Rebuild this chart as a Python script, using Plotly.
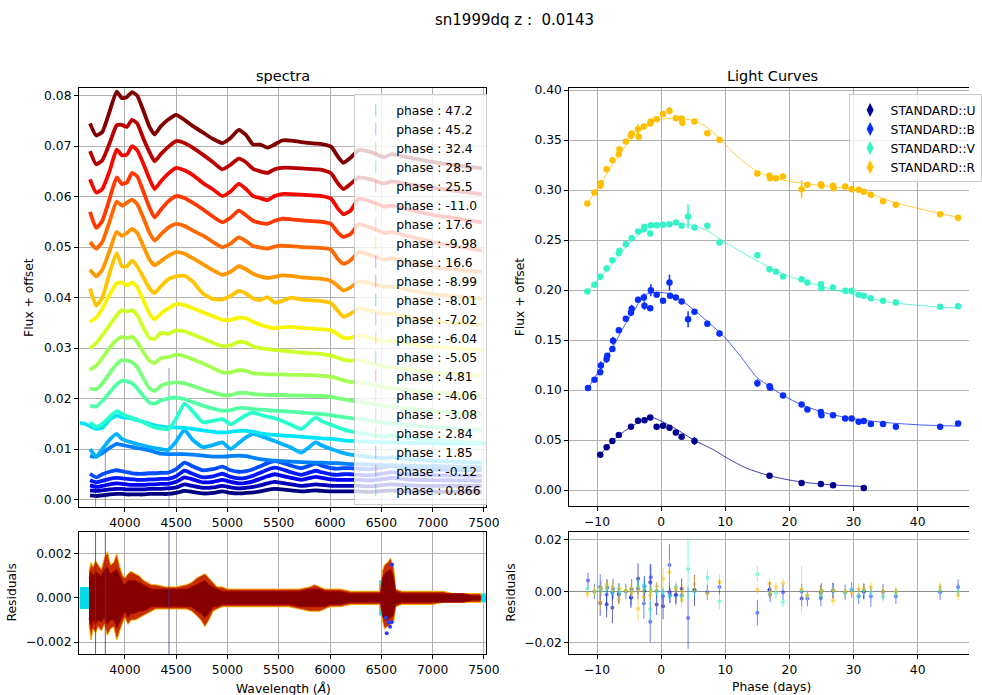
import numpy as np
import plotly.graph_objects as go

FONT = "DejaVu Sans"
GRID = "#b0b0b0"

# ---------------------------------------------------------------- spectra
# common wavelength grid (Angstrom)
wave = [3660, 3720, 3780, 3850, 3920, 3970, 4020, 4070, 4120, 4180,
        4240, 4290, 4350, 4420, 4500, 4580, 4660, 4760, 4860, 4950,
        5030, 5110, 5180, 5250, 5320, 5390, 5460, 5530, 5620, 5720,
        5860, 5920, 6010, 6070, 6130, 6200, 6280, 6400, 6530, 6600,
        6750, 6900, 7050, 7200, 7350, 7480]

phases = ["47.2", "45.2", "32.4", "28.5", "25.5", "-11.0", "17.6", "-9.98",
          "16.6", "-8.99", "-8.01", "-7.02", "-6.04", "-5.05", "4.81",
          "-4.06", "-3.08", "2.84", "1.85", "-0.12", "0.866"]

# flux + offset for each spectrum, same order as phases
flux_p47_2 = [0.0008, 0.0007, 0.0008, 0.0010, 0.0011, 0.0011, 0.0010, 0.0010, 0.0010, 0.0010,
              0.0011, 0.0011, 0.0011, 0.0011, 0.0013, 0.0017, 0.0015, 0.0012, 0.0013, 0.0016,
              0.0013, 0.0012, 0.0013, 0.0014, 0.0016, 0.0019, 0.0021, 0.0020, 0.0018, 0.0016,
              0.0018, 0.0017, 0.0016, 0.0016, 0.0016, 0.0016, 0.0016, 0.0015, 0.0017, 0.0018,
              0.0016, 0.0016, 0.0015, 0.0015, 0.0015, 0.0015]
flux_p45_2 = [0.0018, 0.0017, 0.0018, 0.0020, 0.0021, 0.0021, 0.0020, 0.0020, 0.0020, 0.0020,
              0.0021, 0.0021, 0.0021, 0.0022, 0.0024, 0.0030, 0.0027, 0.0023, 0.0024, 0.0027,
              0.0024, 0.0022, 0.0023, 0.0025, 0.0028, 0.0032, 0.0035, 0.0033, 0.0030, 0.0027,
              0.0030, 0.0029, 0.0027, 0.0027, 0.0027, 0.0027, 0.0027, 0.0026, 0.0029, 0.0030,
              0.0028, 0.0027, 0.0027, 0.0027, 0.0027, 0.0027]
flux_p32_4 = [0.0028, 0.0025, 0.0027, 0.0030, 0.0032, 0.0031, 0.0030, 0.0029, 0.0029, 0.0029,
              0.0030, 0.0030, 0.0031, 0.0031, 0.0035, 0.0044, 0.0040, 0.0034, 0.0035, 0.0039,
              0.0035, 0.0032, 0.0033, 0.0036, 0.0041, 0.0046, 0.0050, 0.0047, 0.0043, 0.0039,
              0.0045, 0.0043, 0.0040, 0.0039, 0.0039, 0.0039, 0.0039, 0.0038, 0.0041, 0.0043,
              0.0040, 0.0039, 0.0038, 0.0038, 0.0038, 0.0037]
flux_p28_5 = [0.0038, 0.0034, 0.0037, 0.0041, 0.0043, 0.0042, 0.0041, 0.0040, 0.0039, 0.0039,
              0.0040, 0.0040, 0.0041, 0.0041, 0.0046, 0.0057, 0.0051, 0.0044, 0.0046, 0.0051,
              0.0045, 0.0042, 0.0043, 0.0047, 0.0053, 0.0059, 0.0063, 0.0060, 0.0054, 0.0049,
              0.0057, 0.0054, 0.0050, 0.0049, 0.0050, 0.0050, 0.0049, 0.0048, 0.0052, 0.0054,
              0.0050, 0.0049, 0.0048, 0.0048, 0.0047, 0.0047]
flux_p25_5 = [0.0051, 0.0044, 0.0050, 0.0055, 0.0058, 0.0056, 0.0054, 0.0052, 0.0051, 0.0051,
              0.0052, 0.0052, 0.0053, 0.0053, 0.0060, 0.0073, 0.0066, 0.0058, 0.0060, 0.0065,
              0.0058, 0.0055, 0.0056, 0.0060, 0.0066, 0.0072, 0.0076, 0.0073, 0.0067, 0.0062,
              0.0071, 0.0067, 0.0062, 0.0061, 0.0062, 0.0062, 0.0061, 0.0060, 0.0064, 0.0066,
              0.0061, 0.0060, 0.0059, 0.0059, 0.0058, 0.0058]
flux_m11_0 = [0.0086, 0.0085, 0.0092, 0.0102, 0.0110, 0.0108, 0.0106, 0.0104, 0.0102, 0.0100,
              0.0097, 0.0094, 0.0091, 0.0090, 0.0090, 0.0090, 0.0089, 0.0087, 0.0085, 0.0085,
              0.0086, 0.0087, 0.0086, 0.0083, 0.0080, 0.0078, 0.0077, 0.0076, 0.0075, 0.0074,
              0.0073, 0.0073, 0.0072, 0.0072, 0.0071, 0.0070, 0.0070, 0.0069, 0.0068, 0.0068,
              0.0067, 0.0066, 0.0066, 0.0065, 0.0065, 0.0064]
flux_p17_6 = [0.0100, 0.0085, 0.0100, 0.0118, 0.0130, 0.0120, 0.0116, 0.0113, 0.0110, 0.0107,
              0.0104, 0.0102, 0.0100, 0.0098, 0.0115, 0.0138, 0.0118, 0.0104, 0.0108, 0.0113,
              0.0100, 0.0112, 0.0123, 0.0130, 0.0126, 0.0121, 0.0116, 0.0110, 0.0103, 0.0093,
              0.0113, 0.0107, 0.0100, 0.0096, 0.0092, 0.0089, 0.0087, 0.0084, 0.0082, 0.0084,
              0.0080, 0.0078, 0.0076, 0.0075, 0.0074, 0.0073]
flux_m9_98 = [0.0145, 0.0140, 0.0142, 0.0158, 0.0166, 0.0163, 0.0162, 0.0160, 0.0157, 0.0154,
              0.0150, 0.0147, 0.0145, 0.0143, 0.0143, 0.0142, 0.0140, 0.0137, 0.0134, 0.0133,
              0.0134, 0.0136, 0.0136, 0.0134, 0.0131, 0.0129, 0.0128, 0.0127, 0.0126, 0.0124,
              0.0122, 0.0121, 0.0120, 0.0119, 0.0117, 0.0116, 0.0115, 0.0114, 0.0113, 0.0113,
              0.0112, 0.0112, 0.0111, 0.0111, 0.0111, 0.0111]
flux_p16_6 = [0.0153, 0.0144, 0.0150, 0.0163, 0.0175, 0.0170, 0.0165, 0.0162, 0.0158, 0.0153,
              0.0147, 0.0143, 0.0141, 0.0139, 0.0160, 0.0190, 0.0175, 0.0153, 0.0156, 0.0159,
              0.0149, 0.0158, 0.0167, 0.0172, 0.0168, 0.0164, 0.0161, 0.0156, 0.0148, 0.0140,
              0.0162, 0.0155, 0.0148, 0.0143, 0.0139, 0.0135, 0.0132, 0.0128, 0.0125, 0.0127,
              0.0122, 0.0119, 0.0117, 0.0115, 0.0113, 0.0112]
flux_m8_99 = [0.0186, 0.0184, 0.0195, 0.0212, 0.0228, 0.0235, 0.0234, 0.0230, 0.0220, 0.0205,
              0.0192, 0.0190, 0.0196, 0.0200, 0.0202, 0.0199, 0.0193, 0.0186, 0.0180, 0.0176,
              0.0177, 0.0181, 0.0181, 0.0179, 0.0178, 0.0177, 0.0176, 0.0175, 0.0174, 0.0172,
              0.0170, 0.0169, 0.0167, 0.0165, 0.0163, 0.0161, 0.0159, 0.0156, 0.0152, 0.0151,
              0.0148, 0.0145, 0.0143, 0.0141, 0.0139, 0.0138]
flux_m8_01 = [0.0220, 0.0218, 0.0230, 0.0250, 0.0268, 0.0276, 0.0275, 0.0272, 0.0262, 0.0240,
              0.0220, 0.0215, 0.0225, 0.0230, 0.0232, 0.0230, 0.0225, 0.0218, 0.0212, 0.0207,
              0.0207, 0.0211, 0.0211, 0.0209, 0.0208, 0.0207, 0.0207, 0.0207, 0.0206, 0.0206,
              0.0205, 0.0205, 0.0203, 0.0201, 0.0199, 0.0196, 0.0194, 0.0190, 0.0185, 0.0184,
              0.0180, 0.0177, 0.0174, 0.0172, 0.0170, 0.0169]
flux_m7_02 = [0.0257, 0.0265, 0.0280, 0.0300, 0.0316, 0.0322, 0.0320, 0.0322, 0.0312, 0.0292,
              0.0275, 0.0270, 0.0280, 0.0282, 0.0287, 0.0284, 0.0278, 0.0270, 0.0260, 0.0252,
              0.0252, 0.0256, 0.0255, 0.0250, 0.0249, 0.0248, 0.0248, 0.0248, 0.0247, 0.0247,
              0.0246, 0.0245, 0.0243, 0.0240, 0.0236, 0.0233, 0.0232, 0.0228, 0.0222, 0.0221,
              0.0217, 0.0214, 0.0211, 0.0209, 0.0207, 0.0206]
flux_m6_04 = [0.0299, 0.0310, 0.0325, 0.0345, 0.0365, 0.0375, 0.0372, 0.0375, 0.0365, 0.0340,
              0.0320, 0.0318, 0.0330, 0.0328, 0.0335, 0.0333, 0.0327, 0.0319, 0.0310, 0.0304,
              0.0305, 0.0312, 0.0311, 0.0303, 0.0300, 0.0298, 0.0296, 0.0295, 0.0293, 0.0291,
              0.0289, 0.0288, 0.0285, 0.0281, 0.0277, 0.0275, 0.0276, 0.0270, 0.0263, 0.0262,
              0.0258, 0.0254, 0.0251, 0.0249, 0.0247, 0.0246]
flux_m5_05 = [0.0352, 0.0360, 0.0378, 0.0405, 0.0428, 0.0430, 0.0424, 0.0430, 0.0420, 0.0395,
              0.0368, 0.0357, 0.0368, 0.0378, 0.0387, 0.0385, 0.0379, 0.0371, 0.0363, 0.0356,
              0.0356, 0.0360, 0.0359, 0.0352, 0.0346, 0.0342, 0.0339, 0.0341, 0.0342, 0.0340,
              0.0338, 0.0337, 0.0335, 0.0328, 0.0320, 0.0320, 0.0325, 0.0320, 0.0313, 0.0314,
              0.0309, 0.0305, 0.0302, 0.0300, 0.0298, 0.0297]
flux_p4_81 = [0.0418, 0.0384, 0.0400, 0.0448, 0.0488, 0.0462, 0.0462, 0.0473, 0.0462, 0.0440,
              0.0418, 0.0409, 0.0422, 0.0436, 0.0442, 0.0443, 0.0432, 0.0408, 0.0397, 0.0396,
              0.0403, 0.0413, 0.0408, 0.0398, 0.0395, 0.0401, 0.0390, 0.0393, 0.0400, 0.0396,
              0.0394, 0.0393, 0.0389, 0.0375, 0.0362, 0.0368, 0.0378, 0.0374, 0.0367, 0.0368,
              0.0362, 0.0357, 0.0353, 0.0350, 0.0348, 0.0346]
flux_m4_06 = [0.0455, 0.0442, 0.0455, 0.0492, 0.0530, 0.0522, 0.0528, 0.0536, 0.0528, 0.0502,
              0.0475, 0.0464, 0.0472, 0.0482, 0.0490, 0.0487, 0.0478, 0.0466, 0.0454, 0.0445,
              0.0451, 0.0462, 0.0456, 0.0447, 0.0442, 0.0439, 0.0441, 0.0444, 0.0443, 0.0440,
              0.0438, 0.0437, 0.0433, 0.0424, 0.0414, 0.0420, 0.0432, 0.0428, 0.0421, 0.0422,
              0.0416, 0.0410, 0.0406, 0.0403, 0.0400, 0.0398]
flux_m3_08 = [0.0510, 0.0497, 0.0510, 0.0550, 0.0590, 0.0582, 0.0588, 0.0594, 0.0585, 0.0558,
              0.0528, 0.0513, 0.0525, 0.0538, 0.0546, 0.0542, 0.0533, 0.0523, 0.0510, 0.0500,
              0.0507, 0.0519, 0.0512, 0.0502, 0.0499, 0.0497, 0.0501, 0.0503, 0.0502, 0.0500,
              0.0499, 0.0498, 0.0495, 0.0478, 0.0467, 0.0474, 0.0490, 0.0484, 0.0475, 0.0478,
              0.0470, 0.0464, 0.0459, 0.0456, 0.0453, 0.0451]
flux_p2_84 = [0.0570, 0.0538, 0.0552, 0.0595, 0.0638, 0.0625, 0.0628, 0.0647, 0.0640, 0.0610,
              0.0578, 0.0559, 0.0574, 0.0590, 0.0601, 0.0597, 0.0588, 0.0575, 0.0560, 0.0549,
              0.0558, 0.0572, 0.0563, 0.0552, 0.0548, 0.0546, 0.0552, 0.0556, 0.0555, 0.0553,
              0.0551, 0.0550, 0.0546, 0.0530, 0.0520, 0.0526, 0.0545, 0.0538, 0.0528, 0.0530,
              0.0522, 0.0515, 0.0508, 0.0503, 0.0497, 0.0493]
flux_p1_85 = [0.0634, 0.0608, 0.0615, 0.0650, 0.0693, 0.0682, 0.0683, 0.0700, 0.0692, 0.0665,
              0.0635, 0.0615, 0.0630, 0.0645, 0.0657, 0.0652, 0.0643, 0.0627, 0.0614, 0.0601,
              0.0610, 0.0625, 0.0615, 0.0601, 0.0597, 0.0593, 0.0601, 0.0605, 0.0605, 0.0604,
              0.0602, 0.0601, 0.0596, 0.0578, 0.0565, 0.0572, 0.0596, 0.0590, 0.0580, 0.0582,
              0.0575, 0.0568, 0.0562, 0.0558, 0.0553, 0.0549]
flux_m0_12 = [0.0690, 0.0664, 0.0672, 0.0705, 0.0741, 0.0742, 0.0738, 0.0752, 0.0745, 0.0715,
              0.0688, 0.0670, 0.0684, 0.0698, 0.0710, 0.0706, 0.0697, 0.0683, 0.0668, 0.0654,
              0.0663, 0.0675, 0.0668, 0.0655, 0.0650, 0.0647, 0.0654, 0.0657, 0.0657, 0.0656,
              0.0654, 0.0653, 0.0646, 0.0628, 0.0615, 0.0625, 0.0638, 0.0634, 0.0626, 0.0630,
              0.0625, 0.0620, 0.0616, 0.0612, 0.0608, 0.0605]
flux_p0_866 = [0.0745, 0.0721, 0.0728, 0.0768, 0.0808, 0.0795, 0.0797, 0.0807, 0.0800, 0.0770,
               0.0738, 0.0723, 0.0739, 0.0752, 0.0762, 0.0752, 0.0740, 0.0727, 0.0714, 0.0706,
               0.0716, 0.0732, 0.0722, 0.0703, 0.0703, 0.0697, 0.0703, 0.0711, 0.0711, 0.0708,
               0.0705, 0.0704, 0.0699, 0.0681, 0.0667, 0.0677, 0.0692, 0.0688, 0.0678, 0.0684,
               0.0678, 0.0672, 0.0667, 0.0663, 0.0659, 0.0656]

# the -9.98 spectrum covers a wider wavelength range
ext_wave_lo = [3560, 3610]
ext_flux_lo_m9_98 = [0.0152, 0.0150]
ext_wave_hi = [7520]
ext_flux_hi_m9_98 = [0.0110]

# very large single-pixel uncertainties on the 47.2 spectrum
bad_pix_wave = [3714, 3809, 4430]
bad_pix_flux = [0.0008, 0.0009, 0.0011]
bad_pix_err = [0.003, 0.009, 0.025]

spectra_flux = [flux_p47_2, flux_p45_2, flux_p32_4, flux_p28_5, flux_p25_5,
                flux_m11_0, flux_p17_6, flux_m9_98, flux_p16_6, flux_m8_99,
                flux_m8_01, flux_m7_02, flux_m6_04, flux_m5_05, flux_p4_81,
                flux_m4_06, flux_m3_08, flux_p2_84, flux_p1_85, flux_m0_12,
                flux_p0_866]

# ------------------------------------------------------ spectra residuals
res_wave = [3650, 3670, 3690, 3714, 3740, 3770, 3800, 3830, 3860, 3890,
            3920, 3950, 3980, 4000, 4030, 4060, 4100, 4140, 4180, 4220,
            4260, 4300, 4400, 4500, 4600, 4650, 4700, 4740, 4780, 4820,
            4860, 4900, 4950, 5000, 5100, 5200, 5300, 5400, 5500, 5600,
            5700, 5800, 5850, 5900, 5950, 6000, 6100, 6200, 6300, 6400,
            6490, 6510, 6530, 6560, 6590, 6620, 6640, 6700, 6800, 6900,
            7000, 7100, 7200, 7300, 7400, 7470]
res_outer_hi = [0.0012, 0.0016, 0.0014, 0.0017, 0.0015, 0.0013, 0.0018, 0.0021, 0.0015, 0.0016,
                0.0020, 0.0014, 0.0010, 0.0009, 0.0011, 0.0012, 0.0011, 0.0010, 0.0008, 0.0007,
                0.0006, 0.0006, 0.0005, 0.0005, 0.0006, 0.0007, 0.0009, 0.0010, 0.0011, 0.0009,
                0.0007, 0.0005, 0.0005, 0.0004, 0.0004, 0.0004, 0.0004, 0.0004, 0.0004, 0.0004,
                0.0004, 0.0005, 0.0006, 0.0005, 0.0004, 0.0004, 0.0004, 0.0003, 0.0003, 0.0003,
                0.0003, 0.0012, 0.0015, 0.0016, 0.0018, 0.0014, 0.0004, 0.0003, 0.0003, 0.0003,
                0.0003, 0.0003, 0.0002, 0.0002, 0.0002, 0.0002]
res_outer_lo = [-0.0012, -0.0019, -0.0014, -0.0016, -0.0013, -0.0015, -0.0012, -0.0017, -0.0014, -0.0013,
                -0.0019, -0.0015, -0.0011, -0.0009, -0.0012, -0.0010, -0.0010, -0.0009, -0.0008, -0.0007,
                -0.0006, -0.0005, -0.0005, -0.0005, -0.0005, -0.0006, -0.0008, -0.0010, -0.0013, -0.0010,
                -0.0006, -0.0005, -0.0004, -0.0004, -0.0004, -0.0004, -0.0004, -0.0004, -0.0004, -0.0004,
                -0.0005, -0.0006, -0.0006, -0.0006, -0.0005, -0.0004, -0.0004, -0.0003, -0.0003, -0.0003,
                -0.0003, -0.0010, -0.0014, -0.0013, -0.0012, -0.0011, -0.0004, -0.0003, -0.0003, -0.0003,
                -0.0003, -0.0002, -0.0002, -0.0002, -0.0002, -0.0002]
res_core_hi = [0.0009, 0.0012, 0.0010, 0.0012, 0.0011, 0.0010, 0.0013, 0.0014, 0.0011, 0.0012,
               0.0013, 0.0010, 0.0007, 0.0006, 0.0008, 0.0008, 0.0008, 0.0007, 0.0006, 0.0005,
               0.0004, 0.0004, 0.0004, 0.0004, 0.0004, 0.0005, 0.0006, 0.0007, 0.0008, 0.0006,
               0.0005, 0.0004, 0.0003, 0.0003, 0.0003, 0.0003, 0.0003, 0.0003, 0.0003, 0.0003,
               0.0003, 0.0004, 0.0004, 0.0004, 0.0003, 0.0003, 0.0003, 0.0002, 0.0002, 0.0002,
               0.0002, 0.0009, 0.0011, 0.0012, 0.0013, 0.0010, 0.0003, 0.0002, 0.0002, 0.0002,
               0.0002, 0.0002, 0.0002, 0.0002, 0.0001, 0.0001]
res_core_lo = [-0.0009, -0.0014, -0.0010, -0.0012, -0.0010, -0.0011, -0.0009, -0.0012, -0.0010, -0.0010,
               -0.0014, -0.0011, -0.0008, -0.0006, -0.0009, -0.0007, -0.0007, -0.0006, -0.0006, -0.0005,
               -0.0004, -0.0004, -0.0004, -0.0004, -0.0004, -0.0004, -0.0006, -0.0007, -0.0009, -0.0007,
               -0.0004, -0.0004, -0.0003, -0.0003, -0.0003, -0.0003, -0.0003, -0.0003, -0.0003, -0.0003,
               -0.0004, -0.0004, -0.0004, -0.0004, -0.0004, -0.0003, -0.0003, -0.0002, -0.0002, -0.0002,
               -0.0002, -0.0008, -0.0010, -0.0010, -0.0009, -0.0008, -0.0003, -0.0002, -0.0002, -0.0002,
               -0.0002, -0.0002, -0.0002, -0.0002, -0.0001, -0.0001]
# wide-range spectrum residual strips (cyan)
cyan_res_wave = [[3560, 3650], [6480, 6515], [7440, 7520]]
cyan_res_half = [0.0005, 0.0008, 0.0002]
# outlying residual points near H-alpha
halpha_res_wave = [6545, 6552, 6570, 6585, 6600, 6605]
halpha_res_val = [-0.0009, -0.0016, -0.0011, -0.0013, -0.0011, 0.0015]

# ------------------------------------------------------------ light curves
U_phase = [-9.5, -8.5, -7.6, -6.6, -4.7, -3.6, -2.6, -1.7, -0.7, 0.3,
           1.3, 2.3, 3.2, 5.2, 16.9, 21.9, 24.9, 26.8, 31.6]
U_flux = [0.0354, 0.0430, 0.0492, 0.0552, 0.0634, 0.0694, 0.0700, 0.0727, 0.0634, 0.0644,
          0.0624, 0.0578, 0.0535, 0.0492, 0.0145, 0.0073, 0.0063, 0.0050, 0.0023]
U_err = [0.0015, 0.0015, 0.0015, 0.0015, 0.0020, 0.0030, 0.0015, 0.0020, 0.0015, 0.0020,
         0.0015, 0.0015, 0.0015, 0.0040, 0.0015, 0.0015, 0.0015, 0.0015, 0.0015]
U_res = [-0.0045, -0.0050, -0.0063, -0.0008, -0.0024, 0.0049, 0.0003, 0.0036, -0.0051, -0.0058,
         -0.0003, -0.0012, 0.0010, 0.0004, 0.0006, -0.0028, -0.0005, 0.0003, 0.0000]
U_res_err = [0.005, 0.005, 0.006, 0.004, 0.004, 0.006, 0.004, 0.007, 0.004, 0.005,
             0.004, 0.004, 0.004, 0.006, 0.003, 0.003, 0.003, 0.003, 0.003]

B_phase = [-11.4, -10.4, -9.5, -9.4, -8.5, -8.4, -7.6, -7.5, -6.6, -5.5,
           -4.7, -4.6, -3.6, -2.7, -2.6, -1.7, -1.6, -0.7, 0.3, 1.3,
           1.4, 2.3, 3.2, 4.2, 5.2, 7.2, 9.1, 15.0, 16.9, 17.0,
           19.0, 21.9, 22.8, 24.9, 25.0, 26.8, 28.7, 29.7, 30.8, 31.6,
           32.7, 34.6, 36.6, 43.5, 46.3]
B_flux = [0.1021, 0.1104, 0.1180, 0.1246, 0.1312, 0.1345, 0.1411, 0.1493, 0.1599, 0.1715,
          0.1774, 0.1814, 0.1903, 0.1927, 0.1843, 0.1820, 0.2000, 0.1953, 0.1893, 0.2077,
          0.1943, 0.1927, 0.1887, 0.1710, 0.1783, 0.1665, 0.1566, 0.1070, 0.1038, 0.1025,
          0.0948, 0.0856, 0.0806, 0.0783, 0.0750, 0.0750, 0.0717, 0.0717, 0.0684, 0.0691,
          0.0661, 0.0661, 0.0634, 0.0634, 0.0666]
B_err = [0.002, 0.002, 0.002, 0.004, 0.004, 0.002, 0.002, 0.004, 0.002, 0.002,
         0.002, 0.004, 0.003, 0.004, 0.004, 0.002, 0.006, 0.002, 0.002, 0.008,
         0.002, 0.002, 0.002, 0.008, 0.002, 0.003, 0.003, 0.004, 0.002, 0.002,
         0.002, 0.002, 0.002, 0.002, 0.002, 0.002, 0.002, 0.002, 0.002, 0.002,
         0.003, 0.002, 0.002, 0.002, 0.002]
B_res = [0.0042, 0.0000, 0.0017, 0.0010, -0.0012, 0.0015, -0.0005, 0.0010, -0.0013, 0.0000,
         -0.0024, 0.0008, 0.0010, -0.0047, 0.0020, -0.0118, 0.0055, 0.0002, -0.0019, 0.0103,
         -0.0015, -0.0015, -0.0015, -0.0103, 0.0006, -0.0003, 0.0017, -0.0083, 0.0006, -0.0012,
         -0.0003, 0.0000, -0.0028, -0.0026, 0.0002, 0.0003, -0.0003, 0.0006, -0.0019, 0.0000,
         -0.0019, -0.0002, -0.0019, -0.0003, 0.0017]
B_res_err = [0.003, 0.003, 0.005, 0.003, 0.006, 0.003, 0.003, 0.004, 0.003, 0.003,
             0.003, 0.004, 0.004, 0.006, 0.004, 0.008, 0.005, 0.003, 0.003, 0.008,
             0.003, 0.003, 0.003, 0.012, 0.003, 0.003, 0.003, 0.005, 0.003, 0.003,
             0.003, 0.003, 0.003, 0.003, 0.003, 0.003, 0.003, 0.003, 0.003, 0.003,
             0.004, 0.003, 0.003, 0.003, 0.003]

V_phase = [-11.5, -10.4, -9.5, -8.5, -7.6, -6.6, -6.5, -5.5, -4.6, -3.6,
           -2.7, -2.6, -1.7, -1.6, -0.7, 0.3, 1.3, 2.3, 3.2, 4.2,
           5.2, 7.2, 9.1, 15.0, 16.9, 17.9, 19.0, 21.9, 22.8, 24.9,
           25.0, 26.8, 28.7, 29.7, 30.8, 31.6, 32.7, 34.6, 36.6, 43.5,
           46.3]
V_flux = [0.1987, 0.2053, 0.2133, 0.2217, 0.2300, 0.2370, 0.2393, 0.2460, 0.2520, 0.2587,
          0.2610, 0.2633, 0.2567, 0.2650, 0.2650, 0.2653, 0.2660, 0.2677, 0.2643, 0.2737,
          0.2627, 0.2643, 0.2477, 0.2350, 0.2210, 0.2183, 0.2137, 0.2110, 0.2077, 0.2060,
          0.2020, 0.2027, 0.1993, 0.1993, 0.1953, 0.1943, 0.1920, 0.1893, 0.1877, 0.1833,
          0.1839]
V_err = [0.002, 0.002, 0.002, 0.002, 0.002, 0.002, 0.002, 0.002, 0.002, 0.002,
         0.002, 0.002, 0.003, 0.002, 0.002, 0.002, 0.002, 0.002, 0.002, 0.012,
         0.002, 0.002, 0.002, 0.002, 0.002, 0.002, 0.002, 0.002, 0.002, 0.002,
         0.002, 0.002, 0.002, 0.002, 0.002, 0.002, 0.002, 0.002, 0.002, 0.002,
         0.002]
V_res = [0.0010, 0.0000, 0.0004, 0.0010, 0.0004, 0.0010, -0.0005, 0.0004, -0.0002, 0.0019,
         0.0027, 0.0012, -0.0070, 0.0005, 0.0000, -0.0003, -0.0019, 0.0017, -0.0019, 0.0087,
         0.0000, 0.0053, -0.0038, 0.0068, -0.0006, -0.0006, -0.0041, 0.0004, -0.0015, -0.0015,
         0.0002, 0.0004, -0.0006, 0.0006, -0.0015, 0.0004, -0.0002, -0.0019, -0.0006, 0.0004,
         0.0000]
V_res_err = [0.002, 0.002, 0.002, 0.002, 0.002, 0.002, 0.002, 0.002, 0.002, 0.003,
             0.003, 0.002, 0.004, 0.002, 0.002, 0.002, 0.002, 0.002, 0.002, 0.012,
             0.002, 0.003, 0.003, 0.003, 0.002, 0.002, 0.002, 0.002, 0.002, 0.002,
             0.002, 0.002, 0.002, 0.002, 0.002, 0.002, 0.002, 0.002, 0.002, 0.002,
             0.002]

R_phase = [-11.5, -10.4, -9.5, -9.4, -8.5, -7.6, -6.6, -6.5, -5.5, -4.7,
           -4.6, -3.6, -3.5, -2.7, -1.7, -1.6, -0.7, 0.3, 1.3, 2.3,
           3.2, 3.3, 5.2, 7.2, 9.1, 15.0, 16.9, 17.0, 17.9, 19.0,
           21.9, 22.8, 24.9, 25.0, 26.8, 26.9, 28.7, 29.7, 30.8, 31.6,
           32.7, 34.6, 36.6, 43.5, 46.3]
R_flux = [0.2867, 0.2977, 0.3043, 0.3070, 0.3210, 0.3300, 0.3360, 0.3410, 0.3487, 0.3543,
          0.3567, 0.3610, 0.3533, 0.3637, 0.3667, 0.3687, 0.3710, 0.3760, 0.3793, 0.3720,
          0.3717, 0.3673, 0.3687, 0.3570, 0.3503, 0.3167, 0.3143, 0.3120, 0.3120, 0.3137,
          0.3010, 0.3053, 0.3060, 0.3043, 0.3043, 0.3020, 0.3037, 0.3010, 0.3003, 0.2983,
          0.2953, 0.2890, 0.2853, 0.2760, 0.2724]
R_err = [0.002, 0.002, 0.002, 0.003, 0.002, 0.002, 0.002, 0.002, 0.002, 0.002,
         0.002, 0.005, 0.002, 0.002, 0.002, 0.002, 0.002, 0.002, 0.004, 0.002,
         0.002, 0.002, 0.002, 0.002, 0.002, 0.002, 0.002, 0.002, 0.002, 0.002,
         0.009, 0.002, 0.002, 0.002, 0.002, 0.002, 0.002, 0.002, 0.002, 0.002,
         0.002, 0.002, 0.002, 0.002, 0.002]
R_res = [-0.0009, 0.0000, -0.0041, 0.0010, 0.0026, 0.0017, -0.0031, 0.0010, 0.0004, 0.0010,
         -0.0005, -0.0067, 0.0005, -0.0022, -0.0015, 0.0000, 0.0019, 0.0049, 0.0074, 0.0010,
         -0.0032, 0.0000, 0.0029, -0.0009, 0.0036, 0.0006, 0.0032, -0.0005, 0.0017, 0.0032,
         0.0008, -0.0015, 0.0000, 0.0004, -0.0035, 0.0005, 0.0000, -0.0006, 0.0010, 0.0010,
         0.0017, 0.0000, 0.0000, 0.0017, -0.0015]
R_res_err = [0.002, 0.002, 0.003, 0.002, 0.002, 0.002, 0.002, 0.002, 0.002, 0.002,
             0.002, 0.005, 0.002, 0.003, 0.002, 0.002, 0.002, 0.004, 0.005, 0.002,
             0.003, 0.002, 0.003, 0.002, 0.003, 0.002, 0.002, 0.002, 0.002, 0.002,
             0.009, 0.002, 0.002, 0.002, 0.002, 0.002, 0.002, 0.002, 0.002, 0.002,
             0.002, 0.002, 0.002, 0.002, 0.002]

# fitted light-curve models
U_model_phase = [-9.5, -7.7, -5.1, -2.6, -1.5, 0.0, 2.6, 5.1, 8.2, 10.3, 13.3, 16.9, 20.5, 24.6, 31.6]
U_model_flux = [0.0354, 0.0486, 0.0618, 0.0707, 0.0727, 0.0691, 0.0601, 0.0502, 0.0403, 0.0321,
                0.0221, 0.0145, 0.0096, 0.0063, 0.0036]
B_model_phase = [-11.4, -9.5, -7.7, -5.6, -4.1, -2.6, -0.5, 1.5, 3.6, 5.6, 7.7, 9.7, 12.3, 14.9,
                 16.9, 19.0, 22.1, 25.6, 29.7, 34.9, 41.0, 46.3]
B_model_flux = [0.1021, 0.1213, 0.1411, 0.1659, 0.1807, 0.1950, 0.1977, 0.1960, 0.1877, 0.1777,
                0.1659, 0.1543, 0.1345, 0.1130, 0.1038, 0.0948, 0.0849, 0.0773, 0.0717, 0.0677,
                0.0651, 0.0641]
V_model_phase = [-11.5, -9.5, -7.7, -5.1, -2.6, 0.0, 2.6, 5.1, 7.2, 9.2, 11.8, 15.4, 17.9, 20.5,
                 25.6, 30.8, 35.9, 41.0, 46.3]
V_model_flux = [0.1987, 0.2127, 0.2260, 0.2460, 0.2593, 0.2660, 0.2667, 0.2643, 0.2593, 0.2510,
                0.2410, 0.2277, 0.2193, 0.2127, 0.2027, 0.1943, 0.1877, 0.1843, 0.1820]
R_model_phase = [-11.5, -9.5, -7.7, -5.1, -2.6, 0.0, 2.6, 5.1, 7.2, 9.2, 11.8, 14.4, 16.9, 20.5,
                 25.6, 29.7, 32.8, 35.9, 41.0, 46.3]
R_model_flux = [0.2867, 0.3060, 0.3243, 0.3477, 0.3643, 0.3710, 0.3717, 0.3693, 0.3627, 0.3510,
                0.3343, 0.3210, 0.3133, 0.3083, 0.3043, 0.3010, 0.2960, 0.2887, 0.2803, 0.2727]

band_names = ["STANDARD::U", "STANDARD::B", "STANDARD::V", "STANDARD::R"]
band_colors = ["#000090", "#0a2dff", "#36f2c8", "#ffbf00"]


def jet(v):
    """matplotlib 'jet' colormap."""
    r = np.interp(v, [0, 0.35, 0.66, 0.89, 1], [0, 0, 1, 1, 0.5])
    g = np.interp(v, [0, 0.125, 0.375, 0.64, 0.91, 1], [0, 0, 1, 1, 0, 0])
    b = np.interp(v, [0, 0.11, 0.34, 0.65, 1], [0.5, 1, 1, 0, 0])
    return "rgb(%d,%d,%d)" % (round(r * 255), round(g * 255), round(b * 255))


fig = go.Figure()

# ------------------------------------------------------------- spectra
n_spec = len(phases)
for i, (ph, fl) in enumerate(zip(phases, spectra_flux)):
    col = jet(i / (n_spec - 1))
    x, y = list(wave), list(fl)
    if ph == "-9.98":
        x = ext_wave_lo + x + ext_wave_hi
        y = ext_flux_lo_m9_98 + y + ext_flux_hi_m9_98
    fig.add_trace(go.Scatter(x=x, y=y, mode="lines", xaxis="x", yaxis="y",
                             line=dict(color=col, width=3.8, shape="spline", smoothing=0.5),
                             showlegend=False, hoverinfo="skip"))
    if i == 0:
        fig.add_trace(go.Scatter(x=bad_pix_wave, y=bad_pix_flux, mode="markers",
                                 xaxis="x", yaxis="y",
                                 marker=dict(size=1, color=col),
                                 error_y=dict(array=bad_pix_err, color="rgba(70,60,140,0.55)",
                                              thickness=1, width=0),
                                 showlegend=False, hoverinfo="skip"))

# legend entries for spectra
for i, ph in enumerate(phases):
    col = jet(i / (n_spec - 1))
    fig.add_trace(go.Scatter(x=[None], y=[None], mode="markers", xaxis="x", yaxis="y",
                             name="phase : " + ph, legend="legend", opacity=0.45,
                             marker=dict(symbol="line-ns-open", size=9,
                                         line=dict(width=1.2, color=col))))

# ------------------------------------------------------- spectra residuals
for (w0, w1), h in zip(cyan_res_wave, cyan_res_half):
    fig.add_trace(go.Scatter(x=[w0, w1, w1, w0], y=[h, h, -h, -h], fill="toself",
                             mode="lines", line=dict(width=0), fillcolor="rgb(0,220,235)",
                             xaxis="x3", yaxis="y3", showlegend=False, hoverinfo="skip"))

fig.add_trace(go.Scatter(x=res_wave + res_wave[::-1], y=res_outer_hi + res_outer_lo[::-1],
                         fill="toself", mode="lines", line=dict(width=1, color="rgb(245,175,0)"),
                         fillcolor="rgb(200,45,0)", xaxis="x3", yaxis="y3",
                         showlegend=False, hoverinfo="skip"))
fig.add_trace(go.Scatter(x=res_wave + res_wave[::-1], y=res_core_hi + res_core_lo[::-1],
                         fill="toself", mode="lines", line=dict(width=0.8, color="rgb(170,10,0)"),
                         fillcolor="rgb(135,0,0)", xaxis="x3", yaxis="y3",
                         showlegend=False, hoverinfo="skip"))
fig.add_trace(go.Scatter(x=halpha_res_wave, y=halpha_res_val, mode="markers",
                         marker=dict(size=4, color="rgb(40,60,255)"),
                         xaxis="x3", yaxis="y3", showlegend=False, hoverinfo="skip"))
fig.add_trace(go.Scatter(x=bad_pix_wave, y=[0, 0, 0], mode="markers",
                         marker=dict(size=1, color="rgb(60,40,120)"),
                         error_y=dict(array=[0.004, 0.004, 0.004], color="rgba(70,50,140,0.8)",
                                      thickness=1, width=0),
                         xaxis="x3", yaxis="y3", showlegend=False, hoverinfo="skip"))

# ---------------------------------------------------------- light curves
lc_sets = [
    (U_phase, U_flux, U_err, U_res, U_res_err, U_model_phase, U_model_flux),
    (B_phase, B_flux, B_err, B_res, B_res_err, B_model_phase, B_model_flux),
    (V_phase, V_flux, V_err, V_res, V_res_err, V_model_phase, V_model_flux),
    (R_phase, R_flux, R_err, R_res, R_res_err, R_model_phase, R_model_flux),
]
for name, col, (ph, fl, er, rs, rse, mph, mfl) in zip(band_names, band_colors, lc_sets):
    fig.add_trace(go.Scatter(x=mph, y=mfl, mode="lines", xaxis="x2", yaxis="y2",
                             line=dict(color=col, width=1, shape="spline", smoothing=0.8),
                             opacity=0.75, showlegend=False, hoverinfo="skip"))
    fig.add_trace(go.Scatter(x=ph, y=fl, mode="markers", xaxis="x2", yaxis="y2",
                             marker=dict(size=6.5, color=col),
                             error_y=dict(array=er, color=col, thickness=1.5, width=0),
                             showlegend=False))
    fig.add_trace(go.Scatter(x=ph, y=rs, mode="markers", xaxis="x4", yaxis="y4",
                             marker=dict(size=4, color=col), opacity=0.6,
                             error_y=dict(array=rse, color=col, thickness=1, width=0),
                             showlegend=False))
    fig.add_trace(go.Scatter(x=[None], y=[None], mode="markers", xaxis="x2", yaxis="y2",
                             name=name, legend="legend2",
                             marker=dict(symbol="diamond-tall", size=10, color=col)))

# ---------------------------------------------------------------- layout
W, H = 982, 695


def px_x(a, b):
    return [a / W, b / W]


def px_y(top, bottom):
    return [1 - bottom / H, 1 - top / H]


axis_common = dict(showgrid=True, gridcolor=GRID, gridwidth=1, showline=True,
                   linecolor="black", linewidth=1, ticks="outside", ticklen=4,
                   tickcolor="black", zeroline=False,
                   tickfont=dict(family=FONT, size=12.3, color="black"))

legend_style = dict(xanchor="left", yanchor="top", bgcolor="rgba(255,255,255,0.8)",
                    bordercolor="#cccccc", borderwidth=1,
                    font=dict(family=FONT, size=12.3, color="black"),
                    itemwidth=31, tracegroupgap=0)

fig.update_layout(
    width=W, height=H, autosize=False,
    margin=dict(l=0, r=0, t=0, b=0),
    paper_bgcolor="white", plot_bgcolor="white",
    font=dict(family=FONT, size=12, color="black"),
    xaxis=dict(axis_common, domain=px_x(80, 493), range=[3552, 7525], anchor="y",
               tick0=4000, dtick=500, tickformat="d", mirror=True),
    yaxis=dict(axis_common, domain=px_y(84, 506), range=[-0.0015, 0.0816], anchor="x",
               dtick=0.01, tickformat=".2f", mirror=True),
    xaxis3=dict(axis_common, domain=px_x(80, 493), range=[3552, 7525], anchor="y3",
                tick0=4000, dtick=500, tickformat="d", mirror=True),
    yaxis3=dict(axis_common, domain=px_y(531, 654), range=[-0.00255, 0.00299], anchor="x3",
                dtick=0.002, tickformat=".3f", mirror=True),
    xaxis2=dict(axis_common, domain=px_x(577, 982), range=[-14.31, 48.0], anchor="y2",
                dtick=10, mirror=True),
    yaxis2=dict(axis_common, domain=px_y(84, 505), range=[-0.0159, 0.4026], anchor="x2",
                dtick=0.05, tickformat=".2f"),
    xaxis4=dict(axis_common, domain=px_x(577, 982), range=[-14.31, 48.0], anchor="y4",
                dtick=10, mirror=True),
    yaxis4=dict(axis_common, domain=px_y(531, 654), range=[-0.0244, 0.0231], anchor="x4",
                dtick=0.02, tickformat=".2f", zeroline=True, zerolinecolor="#8c8c8c",
                zerolinewidth=1),
    legend=dict(legend_style, x=359 / W, y=1 - 91 / H),
    legend2=dict(legend_style, x=860 / W, y=1 - 91 / H),
)


def label(text, x, y, size=12.3, angle=0):
    fig.add_annotation(text=text, x=x / W, y=1 - y / H, xref="paper", yref="paper",
                       showarrow=False, textangle=angle, xanchor="center", yanchor="middle",
                       font=dict(family=FONT, size=size, color="black"))


label("sn1999dq z : \u00a00.0143", 521, 16, size=15)
label("spectra", 287, 72, size=14.5)
label("Light Curves", 783, 72, size=14.5)
label("Flux + offset", 30, 295, angle=-90)
label("Residuals", 12, 592, angle=-90)
label("Flux + offset", 527, 295, angle=-90)
label("Residuals", 517, 592, angle=-90)
label("Wavelength (<i>Å</i>)", 287, 688)
label("Phase (days)", 782, 687)

fig.write_html("out.html")
